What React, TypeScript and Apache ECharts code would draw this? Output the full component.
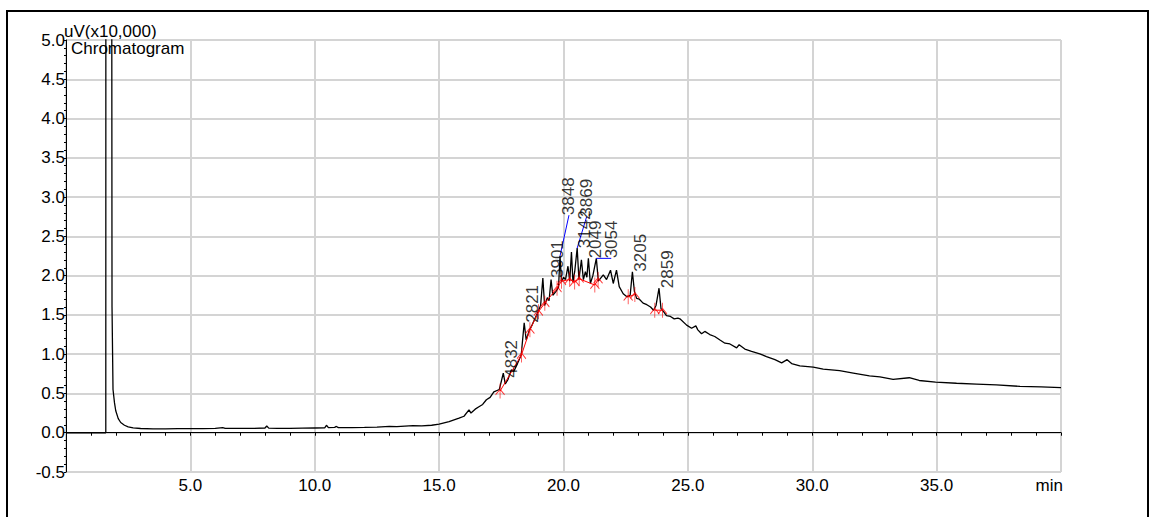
import React, { useEffect, useRef } from 'react';
import * as echarts from 'echarts';

// Chromatogram trace (time in min, signal in uV x10,000)
const times = [
  0, 1.6, 1.61, 1.79, 1.85, 1.89, 1.95, 2.0, 2.1, 2.2, 2.35, 2.5, 2.7, 3.0, 3.5, 4.0, 4.5, 5.0, 5.5, 6.0,
  6.3, 6.4, 7.0, 7.5, 8.0, 8.07, 8.15, 8.5, 9.0, 9.5, 10.0, 10.4, 10.47, 10.55, 10.8, 10.87, 10.95, 11.5, 12.0, 12.5,
  13.0, 13.3, 13.95, 14.3, 14.7, 15.0, 15.4, 15.8, 16.0, 16.2, 16.28, 16.45, 16.6, 16.75, 16.9, 17.05, 17.2, 17.42, 17.58, 17.66,
  17.77, 17.9, 18.0, 18.15, 18.3, 18.42, 18.5, 18.62, 18.75, 18.85, 18.99, 19.08, 19.17, 19.24, 19.35, 19.42, 19.5, 19.57, 19.7, 19.8,
  19.86, 19.92, 20.0, 20.08, 20.18, 20.25, 20.32, 20.38, 20.45, 20.55, 20.62, 20.72, 20.8, 20.88, 20.94, 21.0, 21.08, 21.18, 21.32, 21.4,
  21.6, 21.73, 21.89, 22.0, 22.13, 22.24, 22.4, 22.55, 22.68, 22.77, 22.85, 22.94, 23.05, 23.2, 23.35, 23.5, 23.62,
  23.72, 23.84, 23.92, 24.0, 24.14, 24.3, 24.45, 24.6, 24.68, 24.95, 25.15, 25.32, 25.4, 25.55, 25.68, 25.88, 26.08, 26.29, 26.49,
  26.69, 26.96, 27.06, 27.29, 27.56, 27.89, 28.16, 28.5, 28.77, 28.99, 29.17, 29.5, 30.04, 30.44, 31.1, 31.65, 32.3, 32.72, 33.25, 33.9,
  34.3, 34.96, 35.8, 36.6, 37.4, 38.35, 39.2, 40.0
];
const signal = [
  0, 0, 25, 25, 1.6, 0.55, 0.38, 0.28, 0.18, 0.13, 0.095, 0.075, 0.062, 0.054, 0.05, 0.05, 0.052, 0.052, 0.053, 0.055,
  0.065, 0.055, 0.055, 0.055, 0.06, 0.085, 0.058, 0.055, 0.056, 0.058, 0.06, 0.062, 0.095, 0.065, 0.068, 0.08, 0.065, 0.065, 0.068, 0.072,
  0.08, 0.078, 0.09, 0.088, 0.095, 0.11, 0.14, 0.185, 0.21, 0.29, 0.25, 0.3, 0.33, 0.36, 0.42, 0.45, 0.52, 0.55, 0.76, 0.62,
  0.68, 0.8, 0.78, 0.88, 0.99, 1.4, 1.18, 1.3, 1.38, 1.45, 1.55, 1.62, 1.97, 1.62, 1.72, 1.68, 1.95, 1.75, 1.8, 1.85,
  2.25, 1.92, 1.98, 1.95, 2.12, 1.93, 2.3, 1.92, 2.05, 2.35, 1.95, 2.2, 1.95, 2.05, 1.98, 2.22, 1.9, 2.0, 2.22, 1.93,
  2.01, 1.95, 2.07, 1.9, 2.07, 1.86, 1.77, 1.73, 1.75, 2.05, 1.8, 1.71, 1.7, 1.65, 1.63, 1.6, 1.56,
  1.62, 1.84, 1.58, 1.55, 1.49, 1.48, 1.45, 1.46, 1.45, 1.37, 1.33, 1.36, 1.31, 1.26, 1.29, 1.25, 1.225, 1.18, 1.14,
  1.13, 1.08, 1.12, 1.065, 1.035, 1.005, 0.97, 0.93, 0.89, 0.93, 0.88, 0.85, 0.835, 0.81, 0.79, 0.76, 0.725, 0.71, 0.68, 0.7,
  0.665, 0.645, 0.63, 0.62, 0.61, 0.59, 0.585, 0.575
];

// Peak labels sitting directly on their peaks
const peakLabels = ['4832', '2821', '3901', '3142', '2049', '3205', '2859'];
const peakTimes = [17.55, 18.4, 19.42, 20.5, 20.94, 22.74, 23.82];
const peakHeights = [0.7, 1.4, 1.97, 2.35, 2.22, 2.05, 1.84];

// Peak labels moved away and joined by a leader line
const leaderLabels = ['3848', '3869', '3054'];
const leaderPeakTimes = [19.86, 20.55, 21.32];
const leaderPeakHeights = [2.25, 2.35, 2.22];
const leaderEndTimes = [20.22, 20.93, 21.92];
const leaderEndHeights = [2.77, 2.75, 2.22];

// Peak start / end marks and their drawn baselines
const markerTimes = [17.45, 18.31, 18.65, 18.99, 19.25, 19.74, 19.92, 20.25, 20.45, 20.63, 21.26, 21.39, 22.6, 22.87, 23.67, 23.98];
const markerHeights = [0.53, 0.99, 1.31, 1.54, 1.65, 1.84, 1.93, 1.95, 1.92, 1.96, 1.88, 1.95, 1.73, 1.76, 1.56, 1.56];
const markerGroups = [1, 1, 1, 1, 1, 1, 1, 1, 1, 1, 1, 1, 2, 2, 3, 3];

const FONT = "'Liberation Sans', Arial, sans-serif";

export default function App() {
  const ref = useRef<HTMLDivElement>(null);
  useEffect(() => {
    if (!ref.current) return;
    const chart = echarts.init(ref.current, null, { renderer: 'svg' });

    const trace = times.map((t, i) => [t, signal[i]]);
    const baseline: any[] = [];
    markerTimes.forEach((t, i) => {
      if (i > 0 && markerGroups[i] !== markerGroups[i - 1]) baseline.push([null, null]);
      baseline.push([t, markerHeights[i]]);
    });
    const leaders: any[] = [];
    leaderLabels.forEach((_, i) => {
      if (i > 0) leaders.push([null, null]);
      leaders.push([leaderPeakTimes[i], leaderPeakHeights[i]]);
      leaders.push([leaderEndTimes[i], leaderEndHeights[i]]);
    });

    chart.setOption({
      animation: false,
      textStyle: { fontFamily: FONT },
      title: {
        text: 'Chromatogram',
        left: 71,
        top: 40,
        padding: 0,
        textStyle: { fontSize: 17, fontWeight: 'normal', color: '#000', fontFamily: FONT },
      },
      graphic: [
        {
          type: 'rect',
          shape: { x: 7, y: 11, width: 1141, height: 600 },
          style: { fill: 'none', stroke: '#000', lineWidth: 2 },
          silent: true,
        },
        {
          type: 'text',
          x: 64,
          y: 31,
          style: {
            text: 'uV(x10,000)',
            fontSize: 17,
            fontFamily: FONT,
            fill: '#000',
            textAlign: 'left',
            textVerticalAlign: 'middle',
          },
          silent: true,
        },
        {
          type: 'text',
          x: 1063,
          y: 477,
          style: {
            text: 'min',
            fontSize: 17,
            fontFamily: FONT,
            fill: '#000',
            textAlign: 'right',
            textVerticalAlign: 'top',
          },
          silent: true,
        },
      ],
      grid: {
        left: 66,
        right: 89,
        top: 40,
        bottom: 45,
        show: true,
        borderColor: '#000',
        borderWidth: 1,
        backgroundColor: 'transparent',
      },
      xAxis: {
        type: 'value',
        min: 0,
        max: 40,
        interval: 5,
        axisLine: { show: true, lineStyle: { color: '#000', width: 1 } },
        axisTick: { show: true, length: 3, lineStyle: { color: '#000' } },
        minorTick: { show: true, splitNumber: 5, length: 3, lineStyle: { color: '#000' } },
        splitLine: { show: true, lineStyle: { color: '#d4d4d4', width: 2 } },
        axisLabel: {
          color: '#000',
          fontSize: 17,
          margin: 5,
          fontFamily: FONT,
          formatter: (v: number) => (v === 0 || v === 40 ? '' : v.toFixed(1)),
        },
      },
      yAxis: {
        type: 'value',
        min: -0.5,
        max: 5,
        interval: 0.5,
        axisLine: { show: true, lineStyle: { color: '#000', width: 1 } },
        axisTick: { show: true, length: 2, lineStyle: { color: '#000' } },
        minorTick: { show: true, splitNumber: 5, length: 2, lineStyle: { color: '#000' } },
        splitLine: { show: true, lineStyle: { color: '#d4d4d4', width: 2 } },
        axisLabel: {
          color: '#000',
          fontSize: 17,
          margin: 1,
          fontFamily: FONT,
          formatter: (v: number) => v.toFixed(1),
        },
      },
      series: [
        {
          type: 'line',
          data: trace,
          showSymbol: false,
          symbol: 'none',
          clip: true,
          lineStyle: { color: '#000', width: 1.3 },
          z: 2,
        },
        {
          type: 'line',
          data: baseline,
          showSymbol: false,
          symbol: 'none',
          connectNulls: false,
          lineStyle: { color: '#ff0000', width: 1 },
          z: 3,
        },
        {
          type: 'scatter',
          data: markerTimes.map((t, i) => [t, markerHeights[i]]),
          symbol: 'path://M5,0L5,16M0,12L5,6L10,12',
          symbolSize: [9, 15],
          itemStyle: { color: 'rgba(0,0,0,0)', borderColor: '#ff0000', borderWidth: 1 },
          z: 4,
        },
        {
          type: 'line',
          data: leaders,
          showSymbol: false,
          symbol: 'none',
          connectNulls: false,
          lineStyle: { color: '#0000ff', width: 1 },
          z: 3,
        },
        {
          type: 'scatter',
          data: peakTimes.map((t, i) => ({ value: [t, peakHeights[i]], name: peakLabels[i] })),
          symbolSize: 1,
          itemStyle: { color: 'rgba(0,0,0,0)' },
          label: {
            show: true,
            position: 'inside',
            rotate: 90,
            align: 'left',
            verticalAlign: 'top',
            fontSize: 17,
            color: '#000',
            fontFamily: FONT,
            formatter: (p: any) => p.name,
          },
          z: 5,
        },
        {
          type: 'scatter',
          data: leaderEndTimes.map((t, i) => ({ value: [t, leaderEndHeights[i]], name: leaderLabels[i] })),
          symbolSize: 1,
          itemStyle: { color: 'rgba(0,0,0,0)' },
          label: {
            show: true,
            position: 'inside',
            rotate: 90,
            align: 'left',
            verticalAlign: 'middle',
            fontSize: 17,
            color: '#000',
            fontFamily: FONT,
            formatter: (p: any) => p.name,
          },
          z: 5,
        },
      ],
    });
    return () => chart.dispose();
  }, []);
  return (
    <div
      ref={ref}
      style={{ position: 'absolute', left: 0, top: 0, width: 1150, height: 517, background: '#fff' }}
    />
  );
}
